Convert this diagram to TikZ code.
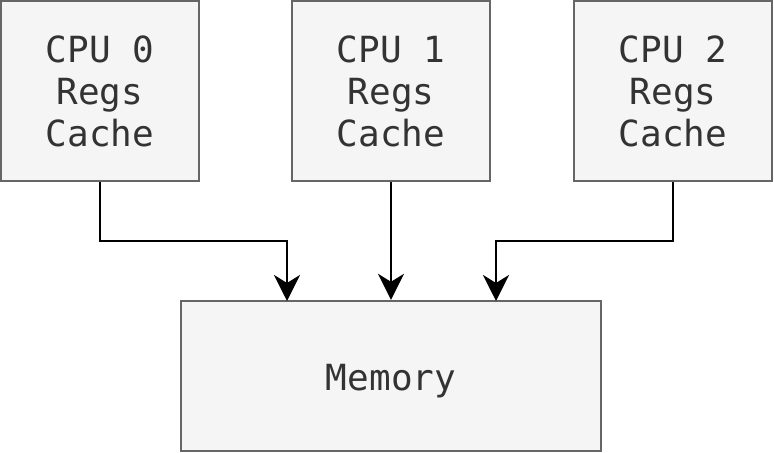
\documentclass[tikz,border=0pt]{standalone}
\usepackage{fontspec}
\setmonofont{DejaVu Sans Mono}
\usepackage{tikz}
\usetikzlibrary{arrows.meta,positioning}

\definecolor{boxfill}{HTML}{F5F5F5}
\definecolor{boxline}{HTML}{666666}
\definecolor{boxtext}{HTML}{333333}

\begin{document}
\begin{tikzpicture}
[
x=0.5pt, y=-0.5pt,
every node/.style={rectangle, draw=boxline, fill=boxfill, text=boxtext, line width=1.2pt,
  font=\ttfamily\fontsize{18}{21}\selectfont, align=center, inner sep=0pt},
cpu/.style={minimum width=99pt, minimum height=90pt},
mem/.style={minimum width=210pt, minimum height=75pt, text height=15pt, text depth=1pt},
link/.style={line width=1.3pt, -{Stealth[length=13pt, width=13pt, inset=4pt]}}
]
\useasboundingbox (0,0) rectangle (774,453);

\node[cpu] (cpu0) at (100,91) {CPU 0\\Regs\\Cache};
\node[cpu] (cpu1) at (391,91) {CPU 1\\Regs\\Cache};
\node[cpu] (cpu2) at (673,91) {CPU 2\\Regs\\Cache};
\node[mem] (mem) at (391,376) {Memory};

\coordinate (in0) at (287,301);
\coordinate (in2) at (496,301);
\draw[link] (cpu0.south) |- (287,241) -- (in0);
\draw[link] (cpu1.south) -- (mem.north);
\draw[link] (cpu2.south) |- (496,241) -- (in2);
\end{tikzpicture}
\end{document}
